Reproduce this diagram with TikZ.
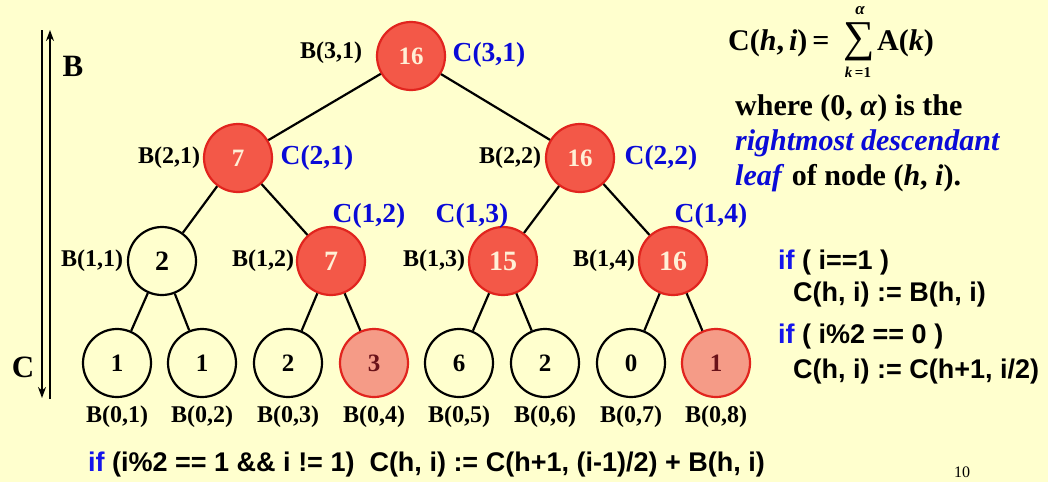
\documentclass[tikz,border=0pt]{standalone}
\usepackage{fontspec}
\setmainfont{Liberation Serif}
\newfontfamily\codefont{Liberation Sans}
\usetikzlibrary{arrows.meta}
\definecolor{bgyellow}{RGB}{255,255,206}
\definecolor{nodered}{RGB}{243,88,72}
\definecolor{edgered}{RGB}{225,36,30}
\definecolor{salmon}{RGB}{245,155,135}
\definecolor{labblue}{RGB}{10,10,215}
\definecolor{ifblue}{RGB}{20,20,235}
\definecolor{darknum}{RGB}{105,18,25}
\definecolor{cream}{RGB}{255,240,214}
\newcommand{\fs}[1]{\fontsize{#1}{#1}\selectfont}
\tikzset{
  tnode/.style={circle, draw=black, line width=2.2pt, minimum size=68pt, inner sep=0pt,
    font=\fs{25}\bfseries},
  rednode/.style={tnode, fill=nodered, draw=edgered, text=cream},
  pinknode/.style={tnode, fill=salmon, draw=edgered, text=darknum},
  midlevel/.style={font=\fs{28}\bfseries},
  blab/.style={font=\fs{24}\bfseries, inner sep=0pt},
  clab/.style={font=\fs{27.5}\bfseries, text=labblue, inner sep=0pt},
  code/.style={font=\fs{27}\codefont\bfseries, inner sep=0pt, anchor=west},
  prose/.style={font=\fs{30}\bfseries, inner sep=0pt, anchor=west},
  tedge/.style={line width=2.2pt},
  axis/.style={line width=2pt, -{Stealth[length=11pt,width=8pt]}}
}
\newcommand{\kw}{\textcolor{ifblue}{if}}
\begin{document}
\begin{tikzpicture}[x=1pt,y=-1pt]
\fill[bgyellow] (0,0) rectangle (1048,482);
\useasboundingbox (0,0) rectangle (1048,482);

% tree nodes
\node[rednode] (r) at (411,56) {16};
\node[rednode] (n21) at (238,158) {7};
\node[rednode] (n22) at (580,158) {16};
\node[tnode, midlevel] (n11) at (162,261) {2};
\node[rednode, midlevel] (n12) at (331,261) {7};
\node[rednode, midlevel] (n13) at (503,261) {15};
\node[rednode, midlevel] (n14) at (673,261) {16};
\node[tnode] (l1) at (117,363) {1};
\node[tnode] (l2) at (202,363) {1};
\node[tnode] (l3) at (288,363) {2};
\node[pinknode] (l4) at (374,363) {3};
\node[tnode] (l5) at (459,363) {6};
\node[tnode] (l6) at (545,363) {2};
\node[tnode] (l7) at (631,363) {0};
\node[pinknode] (l8) at (716,363) {1};

% edges
\draw[tedge] (r) -- (n21);
\draw[tedge] (r) -- (n22);
\draw[tedge] (n21) -- (n11);
\draw[tedge] (n21) -- (n12);
\draw[tedge] (n22) -- (n13);
\draw[tedge] (n22) -- (n14);
\draw[tedge] (n11) -- (l1);
\draw[tedge] (n11) -- (l2);
\draw[tedge] (n12) -- (l3);
\draw[tedge] (n12) -- (l4);
\draw[tedge] (n13) -- (l5);
\draw[tedge] (n13) -- (l6);
\draw[tedge] (n14) -- (l7);
\draw[tedge] (n14) -- (l8);

% B labels
\node[blab] (b31) at (331,53) {B(3,1)};
\node[blab] (b21) at (169,158) {B(2,1)};
\node[blab] (b22) at (510,158) {B(2,2)};
\node[blab] (b11) at (92,261) {B(1,1)};
\node[blab] (b12) at (263,261) {B(1,2)};
\node[blab] (b13) at (434,261) {B(1,3)};
\node[blab] (b14) at (604,261) {B(1,4)};
\foreach \i/\x in {1/117,2/202,3/288,4/374,5/459,6/545,7/631,8/716}
  \node[blab] (b0\i) at (\x,417) {B(0,\i)};

% C labels
\node[clab] (c31) at (489,55) {C(3,1)};
\node[clab] (c21) at (317,158) {C(2,1)};
\node[clab] (c22) at (661,158) {C(2,2)};
\node[clab] (c12) at (369,216) {C(1,2)};
\node[clab] (c13) at (472,216) {C(1,3)};
\node[clab] (c14) at (711,216) {C(1,4)};

% direction arrows
\coordinate (dtop) at (42,30);
\coordinate (dbot) at (42,398);
\coordinate (utop) at (50,30);
\coordinate (ubot) at (50,399);
\draw[axis] (dtop) -- (dbot);
\draw[axis] (ubot) -- (utop);
\node[font=\fs{31}\bfseries, inner sep=0pt] (bdir) at (73,66) {B};
\node[font=\fs{31}\bfseries, inner sep=0pt] (cdir) at (23,367) {C};

% definition of C(h,i)
\node[prose] (lhs) at (728,43) {C(\textit{h},\,\textit{i})\,=};
\node[font=\fs{44}, inner sep=0pt] (sig) at (859,42) {∑};
\node[font=\fs{17}\bfseries\itshape, inner sep=0pt] (up) at (860,11) {α};
\node[font=\fs{15}\bfseries, inner sep=0pt] (low) at (858,72) {\textit{k}\,=1};
\node[prose] (rhs) at (877,43) {A(\textit{k})};

\node[prose] (w1) at (735,108) {where (0, \textit{α}) is the};
\node[prose, text=labblue, font=\fs{30}\bfseries\itshape] (w2) at (735,143) {rightmost descendant};
\node[prose] (w3) at (735,178) {\textcolor{labblue}{\textit{leaf}} of node (\textit{h}, \textit{i}).};

% update rules
\node[code] (if1) at (778,263) {\kw\ ( i==1 )};
\node[code] (s1) at (793,295) {C(h, i) := B(h, i)};
\node[code] (if2) at (778,337) {\kw\ ( i\%2 == 0 )};
\node[code] (s2) at (793,372) {C(h, i) := C(h+1, i/2)};
\node[code] (if3) at (88,465) {\kw\ (i\%2 == 1 \&\& i != 1)\ \ C(h, i) := C(h+1, (i-1)/2) + B(h, i)};

\node[font=\fs{16}, inner sep=0pt] (pg) at (962,472) {10};
\end{tikzpicture}
\end{document}
